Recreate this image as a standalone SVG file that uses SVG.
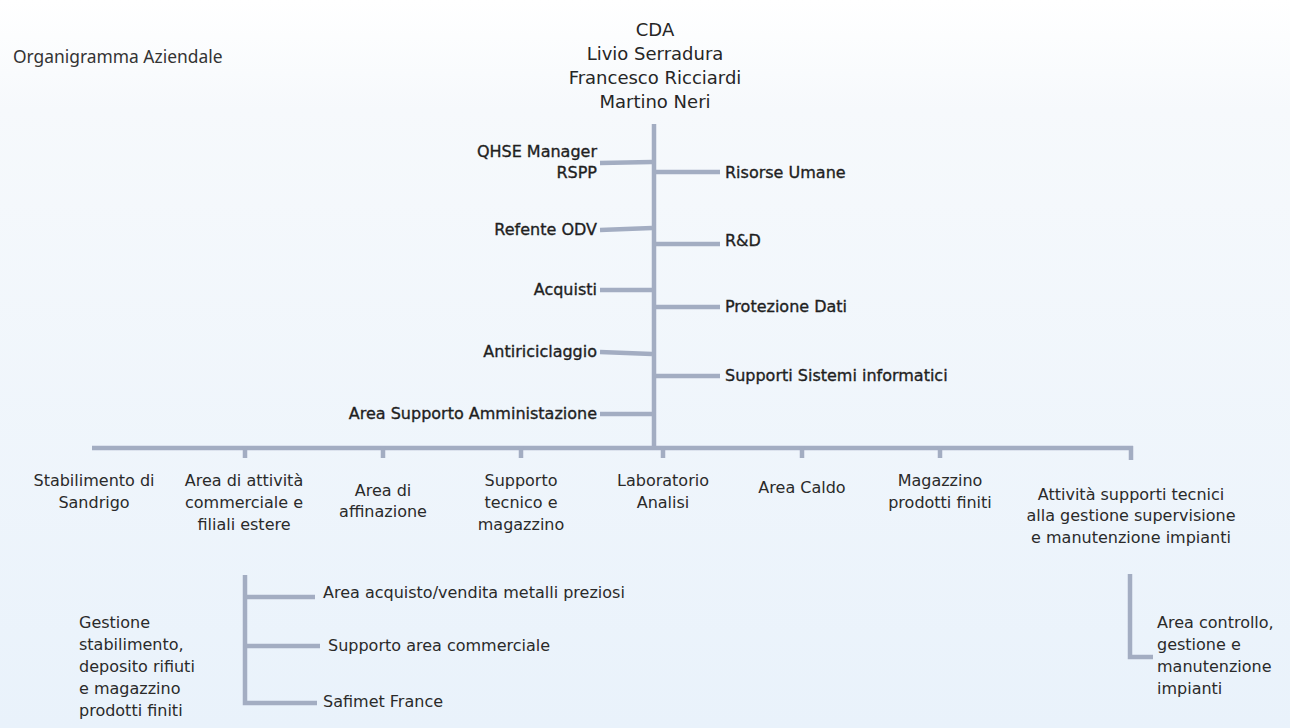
<svg xmlns="http://www.w3.org/2000/svg" width="1290" height="728" viewBox="0 0 1290 728">
<defs>
<linearGradient id="bg" x1="0" y1="0" x2="0" y2="1">
<stop offset="0" stop-color="#ffffff"/>
<stop offset="0.15" stop-color="#f6f9fc"/>
<stop offset="1" stop-color="#e9f2fb"/>
</linearGradient>
<style>
.t{font-family:"DejaVu Sans","Noto Sans",sans-serif;fill:#2a2a2a;font-size:16px}
.top{font-family:"DejaVu Sans","Noto Sans",sans-serif;fill:#1f1f1f;font-size:16px;stroke:#1f1f1f;stroke-width:0.35}
.hd{font-family:"DejaVu Sans","Noto Sans",sans-serif;fill:#262626;font-size:18px}
.title{font-family:"Noto Sans","DejaVu Sans",sans-serif;fill:#333;font-size:17.4px}
.c{stroke:#a3adc2;stroke-width:4.5;fill:none;stroke-linecap:butt}
.m{text-anchor:middle}
.e{text-anchor:end}
</style>
</defs>
<rect width="1290" height="728" fill="url(#bg)"/>
<text class="title" x="13" y="63">Organigramma Aziendale</text>
<g id="connectors">
<path class="c" d="M654 124V448"/>
<path class="c" d="M600 163L652 162"/>
<path class="c" d="M656 172H720"/>
<path class="c" d="M600 230L652 228"/>
<path class="c" d="M656 244H720"/>
<path class="c" d="M600 290H652"/>
<path class="c" d="M656 307H720"/>
<path class="c" d="M600 352L652 354"/>
<path class="c" d="M656 376H720"/>
<path class="c" d="M600 414H652"/>
<path class="c" d="M92 448H1133"/>
<path class="c" d="M245 446V458M383 446V458M521 446V458M663 446V458M802 446V458M940 446V458M1131 446V460"/>
<path class="c" d="M245 575V703H317M245 597H315M245 646H320"/>
<path class="c" d="M1130 574V657H1153"/>
</g>
<g id="cda"><text class="hd m" x="655"><tspan x="655" y="36">CDA</tspan><tspan x="655" y="60">Livio Serradura</tspan><tspan x="655" y="84">Francesco Ricciardi</tspan><tspan x="655" y="108">Martino Neri</tspan></text></g>
<g id="qhse"><text class="top e"><tspan x="597" y="157">QHSE Manager</tspan><tspan x="597" y="178">RSPP</tspan></text></g>
<g id="risorse"><text class="top" x="725" y="178">Risorse Umane</text></g>
<g id="odv"><text class="top e" x="597" y="235">Refente ODV</text></g>
<g id="rd"><text class="top" x="725" y="246">R&amp;D</text></g>
<g id="acquisti"><text class="top e" x="597" y="295">Acquisti</text></g>
<g id="protezione"><text class="top" x="725" y="312">Protezione Dati</text></g>
<g id="antiriciclaggio"><text class="top e" x="597" y="357">Antiriciclaggio</text></g>
<g id="sistemi"><text class="top" x="725" y="381">Supporti Sistemi informatici</text></g>
<g id="amministrazione"><text class="top e" x="597" y="419">Area Supporto Amministazione</text></g>
<g id="sandrigo"><text class="t m"><tspan x="94" y="486">Stabilimento di</tspan><tspan x="94" y="508">Sandrigo</tspan></text></g>
<g id="commerciale"><text class="t m"><tspan x="244" y="486">Area di attività</tspan><tspan x="244" y="508">commerciale e</tspan><tspan x="244" y="530">filiali estere</tspan></text></g>
<g id="affinazione"><text class="t m"><tspan x="383" y="496">Area di</tspan><tspan x="383" y="517">affinazione</tspan></text></g>
<g id="supporto"><text class="t m"><tspan x="521" y="486">Supporto</tspan><tspan x="521" y="508">tecnico e</tspan><tspan x="521" y="530">magazzino</tspan></text></g>
<g id="laboratorio"><text class="t m"><tspan x="663" y="486">Laboratorio</tspan><tspan x="663" y="508">Analisi</tspan></text></g>
<g id="caldo"><text class="t m" x="802" y="493">Area Caldo</text></g>
<g id="magazzino"><text class="t m"><tspan x="940" y="486">Magazzino</tspan><tspan x="940" y="508">prodotti finiti</tspan></text></g>
<g id="attivita"><text class="t m"><tspan x="1131" y="500">Attività supporti tecnici</tspan><tspan x="1131" y="521">alla gestione supervisione</tspan><tspan x="1131" y="543">e manutenzione impianti</tspan></text></g>
<g id="metalli"><text class="t" x="323" y="598">Area acquisto/vendita metalli preziosi</text></g>
<g id="supportocomm"><text class="t" x="328" y="651">Supporto area commerciale</text></g>
<g id="safimet"><text class="t" x="323" y="707">Safimet France</text></g>
<g id="gestione"><text class="t"><tspan x="79" y="628">Gestione</tspan><tspan x="79" y="650">stabilimento,</tspan><tspan x="79" y="672">deposito rifiuti</tspan><tspan x="79" y="694">e magazzino</tspan><tspan x="79" y="716">prodotti finiti</tspan></text></g>
<g id="controllo"><text class="t"><tspan x="1157" y="628">Area controllo,</tspan><tspan x="1157" y="650">gestione e</tspan><tspan x="1157" y="672">manutenzione</tspan><tspan x="1157" y="694">impianti</tspan></text></g>
</svg>
